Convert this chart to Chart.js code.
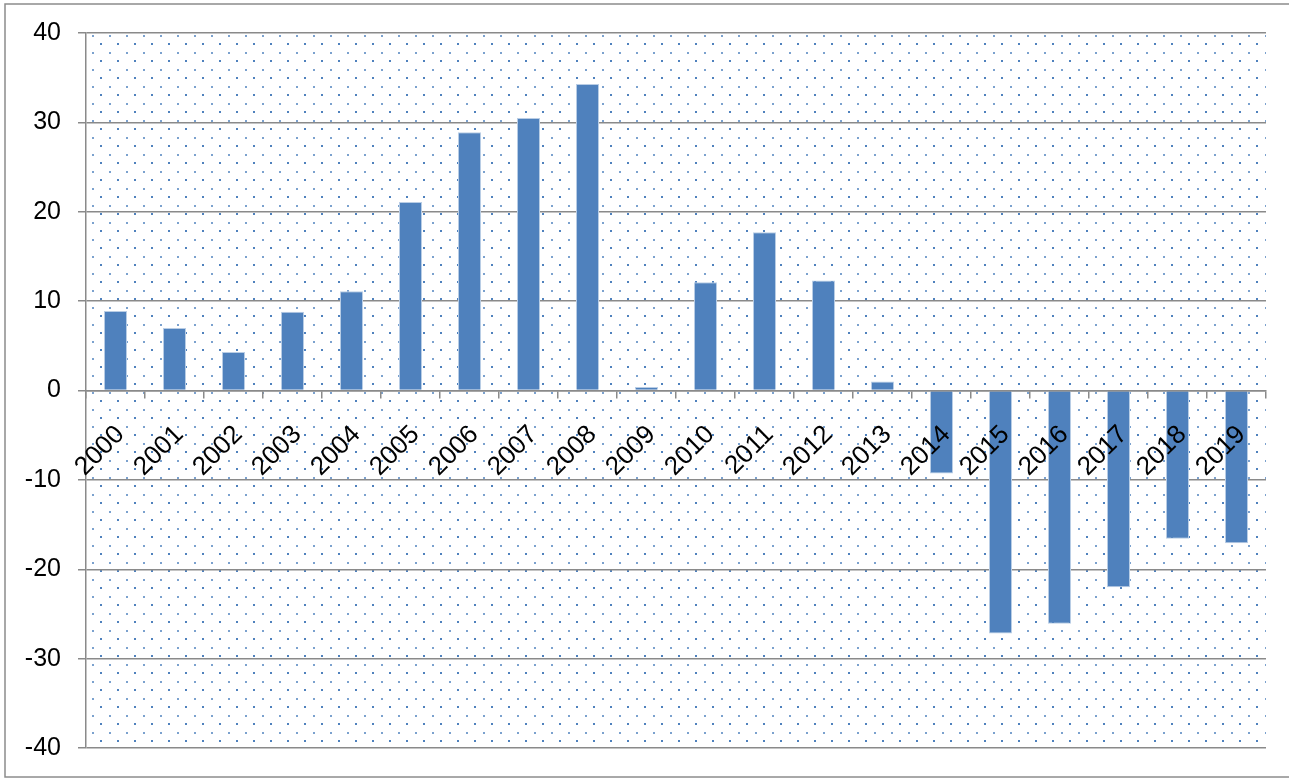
<!DOCTYPE html>
<html>
<head>
<meta charset="utf-8">
<script src="https://cdn.jsdelivr.net/npm/chart.js@4/dist/chart.umd.min.js"></script>
<style>
  html, body { margin: 0; padding: 0; background: #fff; }
  #chart { display: block; }
</style>
</head>
<body>
<canvas id="chart" width="1289" height="778"></canvas>
<script>
// Yearly values, 2000-2019
const years = ['2000', '2001', '2002', '2003', '2004', '2005', '2006', '2007', '2008', '2009',
               '2010', '2011', '2012', '2013', '2014', '2015', '2016', '2017', '2018', '2019'];
const values = [8.9, 7.0, 4.3, 8.8, 11.1, 21.1, 28.9, 30.5, 34.3, 0.4,
                12.1, 17.7, 12.3, 1.0, -9.3, -27.2, -26.1, -22.0, -16.6, -17.1];
const yMin = -40;
const yMax = 40;
const yStep = 10;

const FONT = "'Liberation Sans', Arial, sans-serif";
const GRID = '#8a8a8a';

// small tile of dots used to fill the plot area
function dotPattern(ctx) {
    const tile = document.createElement('canvas');
    tile.width = 17;
    tile.height = 17;
    const t = tile.getContext('2d');
    t.fillStyle = 'rgba(79,129,189,0.75)';
    t.fillRect(0, 0, 2, 2);
    t.fillStyle = 'rgba(79,129,189,1)';
    t.fillRect(8, 8, 2, 2);
    return ctx.createPattern(tile, 'repeat');
}

const backdrop = {
    id: 'backdrop',
    beforeDraw(chart) {
        const { ctx, chartArea: a } = chart;
        ctx.save();
        // outer frame
        ctx.strokeStyle = '#8c8c8c';
        ctx.lineWidth = 1.5;
        ctx.strokeRect(5, 4, 1400, 773);
        // dotted plot area
        const pat = dotPattern(ctx);
        pat.setTransform(new DOMMatrix().translate(a.left + 6, a.top + 2));
        ctx.fillStyle = pat;
        ctx.fillRect(a.left, a.top, a.right - a.left, a.bottom - a.top);
        ctx.restore();
    }
};

new Chart(document.getElementById('chart'), {
    type: 'bar',
    data: {
        labels: years,
        datasets: [{
            data: values,
            backgroundColor: '#4f81bd',
            borderColor: '#b9cde5',
            borderWidth: 1,
            barPercentage: 0.39,
            categoryPercentage: 1
        }]
    },
    options: {
        responsive: false,
        animation: false,
        layout: { padding: { top: 33, right: 23, bottom: 30, left: 0 } },
        plugins: {
            legend: { display: false },
            tooltip: { enabled: false }
        },
        scales: {
            x: {
                position: { y: 0 },
                grid: {
                    offset: true,
                    drawOnChartArea: false,
                    drawTicks: true,
                    tickLength: 7,
                    color: GRID,
                    lineWidth: 1.5,
                    z: 1
                },
                border: { display: true, color: GRID, width: 1.5, z: 1 },
                ticks: {
                    autoSkip: false,
                    minRotation: 45,
                    maxRotation: 45,
                    padding: 22,
                    labelOffset: 5,
                    z: 2,
                    color: '#000',
                    font: { family: FONT, size: 26 }
                },
                afterFit(scale) {
                    scale.height = 0;
                    scale.paddingLeft = 0;
                    scale.paddingRight = 0;
                }
            },
            y: {
                min: yMin,
                max: yMax,
                ticks: {
                    stepSize: yStep,
                    padding: 17,
                    color: '#000',
                    font: { family: FONT, size: 25 }
                },
                grid: { color: GRID, lineWidth: 1.5, tickLength: 8 },
                border: { display: true, color: GRID, width: 1.5 },
                afterFit(scale) {
                    scale.width = 86;
                    scale.paddingTop = 0;
                    scale.paddingBottom = 0;
                }
            }
        }
    },
    plugins: [backdrop]
});
</script>
</body>
</html>
